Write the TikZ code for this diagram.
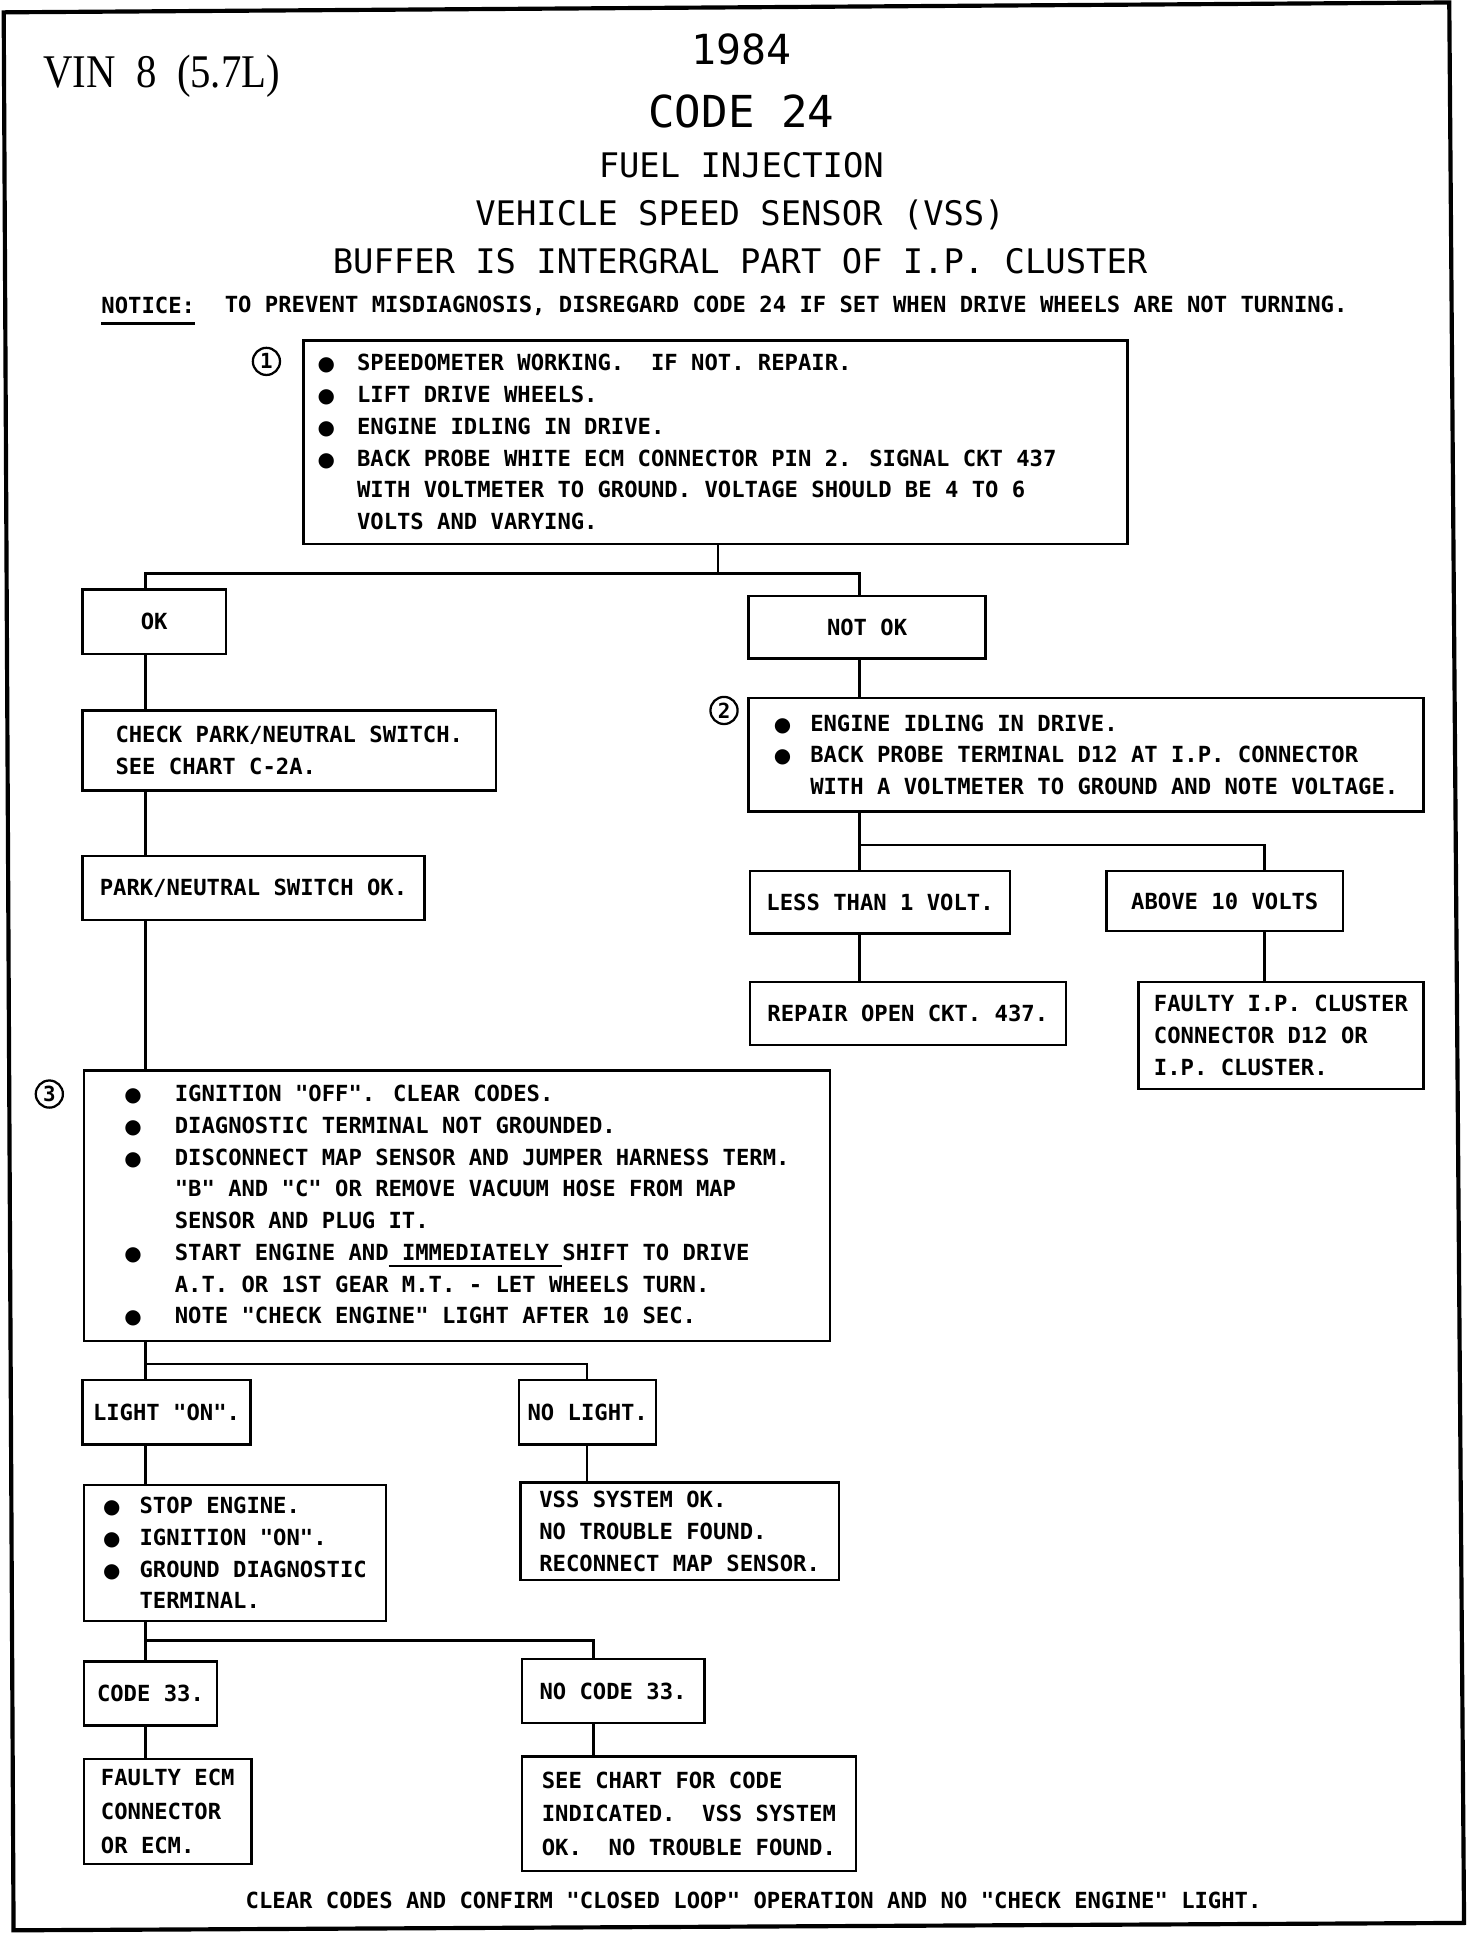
\documentclass[tikz,border=0pt]{standalone}
\usepackage{fontspec}
\newfontfamily\plotfont{DejaVu Sans Mono}
\newfontfamily\dotfont{DejaVu Sans}
\newfontfamily\vinfont{Liberation Serif}
\newcommand\bul[1][22pt]{\makebox[#1][l]{\dotfont\fontsize{11.5}{11.5}\selectfont ●}}
\newcommand\thickul[1]{\setbox0\hbox{#1}\rlap{\rule[-4pt]{\wd0}{1.3pt}}\box0\relax}
\tikzset{chartbox/.style={draw, line width=1.4pt, anchor=north west, align=left, inner sep=0pt,
    font=\plotfont\bfseries\fontsize{12.8}{18.3}\selectfont},
  wire/.style={line width=1.5pt},
  stepnum/.style={circle, draw, line width=1.3pt, inner sep=0pt, minimum size=0.55cm,
    font=\plotfont\bfseries\fontsize{12}{12}\selectfont},
  headline/.style={font=\plotfont\fontsize{19.5}{20}\selectfont}}

\begin{document}
\begin{tikzpicture}[x=0.025cm, y=-0.025cm]
  \useasboundingbox (0,0) rectangle (1193,1568);
  % page frame
  \draw[line width=2.4pt] (3,10) -- (1175,2) -- (1187,1559) -- (11,1565) -- cycle;
  % headings
  \node[anchor=west, inner sep=0pt] (vin) at (35,62)
    {\vinfont\fontsize{27}{27}\selectfont\scalebox{0.87}[1]{VIN\hspace{0.5em}8\hspace{0.5em}(5.7L)}};
  \node[font=\plotfont\fontsize{23.9}{24}\selectfont] (year) at (601,40) {1984};
  \node[font=\plotfont\fontsize{25.4}{26}\selectfont] (code24) at (601,90) {CODE 24};
  \node[headline] (fuel) at (601,134) {FUEL INJECTION};
  \node[headline] (vss) at (600,174) {VEHICLE SPEED SENSOR (VSS)};
  \node[headline] (buffer) at (600,212) {BUFFER IS INTERGRAL PART OF I.P. CLUSTER};
  \node[anchor=west, inner sep=0pt, font=\plotfont\bfseries\fontsize{12.8}{14}\selectfont] (notice) at (82,248) {NOTICE:};
  \draw[line width=1.5pt] ([yshift=-5pt]notice.south west) -- ([yshift=-5pt]notice.south east);
  \node[anchor=west, inner sep=0pt, font=\plotfont\bfseries\fontsize{12.8}{14}\selectfont] (noticetxt) at (182,248)
    {TO PREVENT MISDIAGNOSIS, DISREGARD CODE 24 IF SET WHEN DRIVE WHEELS ARE NOT TURNING.};

  % step 1
  \node[chartbox, minimum width=16.7cm, minimum height=4.125cm] (b1) at (245,275)
    {\bul[22.7pt]SPEEDOMETER WORKING.\ \ IF NOT. REPAIR.\\
     \bul[22.7pt]LIFT DRIVE WHEELS.\\
     \bul[22.7pt]ENGINE IDLING IN DRIVE.\\
     \bul[22.7pt]BACK PROBE WHITE ECM CONNECTOR PIN 2. SIGNAL CKT 437\makebox[1.15cm]{}\\
     \hspace*{22.7pt}WITH VOLTMETER TO GROUND. VOLTAGE SHOULD BE 4 TO 6\\
     \hspace*{22.7pt}VOLTS AND VARYING.};
  \node[stepnum] (n1) at (216,293) {1};
  \node[chartbox, align=center, minimum width=2.9cm, minimum height=1.3cm] (ok) at (66,477) {OK};
  \node[chartbox, align=center, minimum width=4.8cm, minimum height=1.275cm] (notok) at (606,482) {NOT OK};

  % left branch
  \node[chartbox, minimum width=8.375cm, minimum height=1.625cm] (chk) at (66,575)
    {CHECK PARK/NEUTRAL SWITCH.\\ SEE CHART C-2A.};
  \node[chartbox, align=center, minimum width=6.925cm, minimum height=1.3cm] (park) at (66,693) {PARK/NEUTRAL SWITCH OK.};
  \node[chartbox, minimum width=15.125cm, minimum height=5.475cm] (b3) at (67,867)
    {\bul[29pt]IGNITION "OFF". CLEAR CODES.\\
     \bul[29pt]DIAGNOSTIC TERMINAL NOT GROUNDED.\\
     \bul[29pt]DISCONNECT MAP SENSOR AND JUMPER HARNESS TERM.\\
     \hspace*{29pt}"B" AND "C" OR REMOVE VACUUM HOSE FROM MAP\\
     \hspace*{29pt}SENSOR AND PLUG IT.\\
     \bul[29pt]START ENGINE AND\thickul{ IMMEDIATELY }SHIFT TO DRIVE\\
     \hspace*{29pt}A.T. OR 1ST GEAR M.T. - LET WHEELS TURN.\\
     \bul[29pt]NOTE "CHECK ENGINE" LIGHT AFTER 10 SEC.};
  \node[stepnum] (n3) at (40,887) {3};
  \node[chartbox, align=center, minimum width=3.4cm, minimum height=1.3cm] (lighton) at (66,1118) {LIGHT "ON".};
  \node[chartbox, align=center, minimum width=2.775cm, minimum height=1.3cm] (nolight) at (420,1118) {NO LIGHT.};
  \node[chartbox, minimum width=6.125cm, minimum height=2.75cm] (stop) at (67,1203)
    {\bul[21pt]STOP ENGINE.\\
     \bul[21pt]IGNITION "ON".\\
     \bul[21pt]GROUND DIAGNOSTIC\\
     \hspace*{21pt}TERMINAL.};
  \node[chartbox, minimum width=6.45cm, minimum height=1.975cm] (vssok) at (421,1201)
    {VSS SYSTEM OK.\\ NO TROUBLE FOUND.\\ RECONNECT MAP SENSOR.};
  \node[chartbox, align=center, minimum width=2.7cm, minimum height=1.3cm] (code) at (67,1346) {CODE 33.};
  \node[chartbox, align=center, minimum width=3.7cm, minimum height=1.3cm] (nocode) at (422,1344) {NO CODE 33.};
  \node[chartbox, minimum width=3.4cm, minimum height=2.125cm,
    font=\plotfont\bfseries\fontsize{12.8}{19.5}\selectfont] (faultyecm) at (67,1425)
    {FAULTY ECM\\ CONNECTOR\\ OR ECM.};
  \node[chartbox, minimum width=6.775cm, minimum height=2.325cm,
    font=\plotfont\bfseries\fontsize{12.8}{19.2}\selectfont] (seechart) at (422,1423)
    {SEE CHART FOR CODE\\ INDICATED.\ \ VSS SYSTEM\\ OK.\ \ NO TROUBLE FOUND.};

  % right branch
  \node[chartbox, minimum width=13.675cm, minimum height=2.3cm] (b2) at (606,565)
    {\bul[21pt]ENGINE IDLING IN DRIVE.\\
     \bul[21pt]BACK PROBE TERMINAL D12 AT I.P. CONNECTOR\\
     \hspace*{21pt}WITH A VOLTMETER TO GROUND AND NOTE VOLTAGE.};
  \node[stepnum] (n2) at (587,576) {2};
  \node[chartbox, align=center, minimum width=5.275cm, minimum height=1.275cm] (less) at (607,705) {LESS THAN 1 VOLT.};
  \node[chartbox, align=center, minimum width=4.8cm, minimum height=1.225cm] (above) at (896,705) {ABOVE 10 VOLTS};
  \node[chartbox, align=center, minimum width=6.4cm, minimum height=1.275cm] (repair) at (607,795) {REPAIR OPEN CKT. 437.};
  \node[chartbox, minimum width=5.775cm, minimum height=2.175cm] (faultyip) at (922,795)
    {FAULTY I.P. CLUSTER\\ CONNECTOR D12 OR\\ I.P. CLUSTER.};

  \node[font=\plotfont\bfseries\fontsize{12.8}{14}\selectfont] (clear) at (611,1541)
    {CLEAR CODES AND CONFIRM "CLOSED LOOP" OPERATION AND NO "CHECK ENGINE" LIGHT.};

  % connector lines
  \coordinate (lx) at (118,0); \coordinate (rx) at (697,0); \coordinate (ax) at (1025,0);
  \coordinate (nlx) at (476,0); \coordinate (ncx) at (481,0); \coordinate (dx) at (582,0);
  \coordinate (t1) at (582,465); \coordinate (t2) at (697,685);
  \coordinate (t3) at (118,1106); \coordinate (t4) at (118,1330);
  \draw[wire] (b1.south -| dx) -- (t1) -| (ok.north -| lx);
  \draw[wire] (t1) -| (notok.north -| rx);
  \draw[wire] (ok.south -| lx) -- (chk.north -| lx);
  \draw[wire] (chk.south -| lx) -- (park.north -| lx);
  \draw[wire] (park.south -| lx) -- (b3.north -| lx);
  \draw[wire] (b3.south -| lx) -- (lighton.north -| lx);
  \draw[wire] (t3) -| (nolight.north -| nlx);
  \draw[wire] (lighton.south -| lx) -- (stop.north -| lx);
  \draw[wire] (nolight.south -| nlx) -- (vssok.north -| nlx);
  \draw[wire] (stop.south -| lx) -- (code.north -| lx);
  \draw[wire] (t4) -| (nocode.north -| ncx);
  \draw[wire] (code.south -| lx) -- (faultyecm.north -| lx);
  \draw[wire] (nocode.south -| ncx) -- (seechart.north -| ncx);
  \draw[wire] (notok.south -| rx) -- (b2.north -| rx);
  \draw[wire] (b2.south -| rx) -- (less.north -| rx);
  \draw[wire] (t2) -| (above.north -| ax);
  \draw[wire] (less.south -| rx) -- (repair.north -| rx);
  \draw[wire] (above.south -| ax) -- (faultyip.north -| ax);
\end{tikzpicture}
\end{document}
